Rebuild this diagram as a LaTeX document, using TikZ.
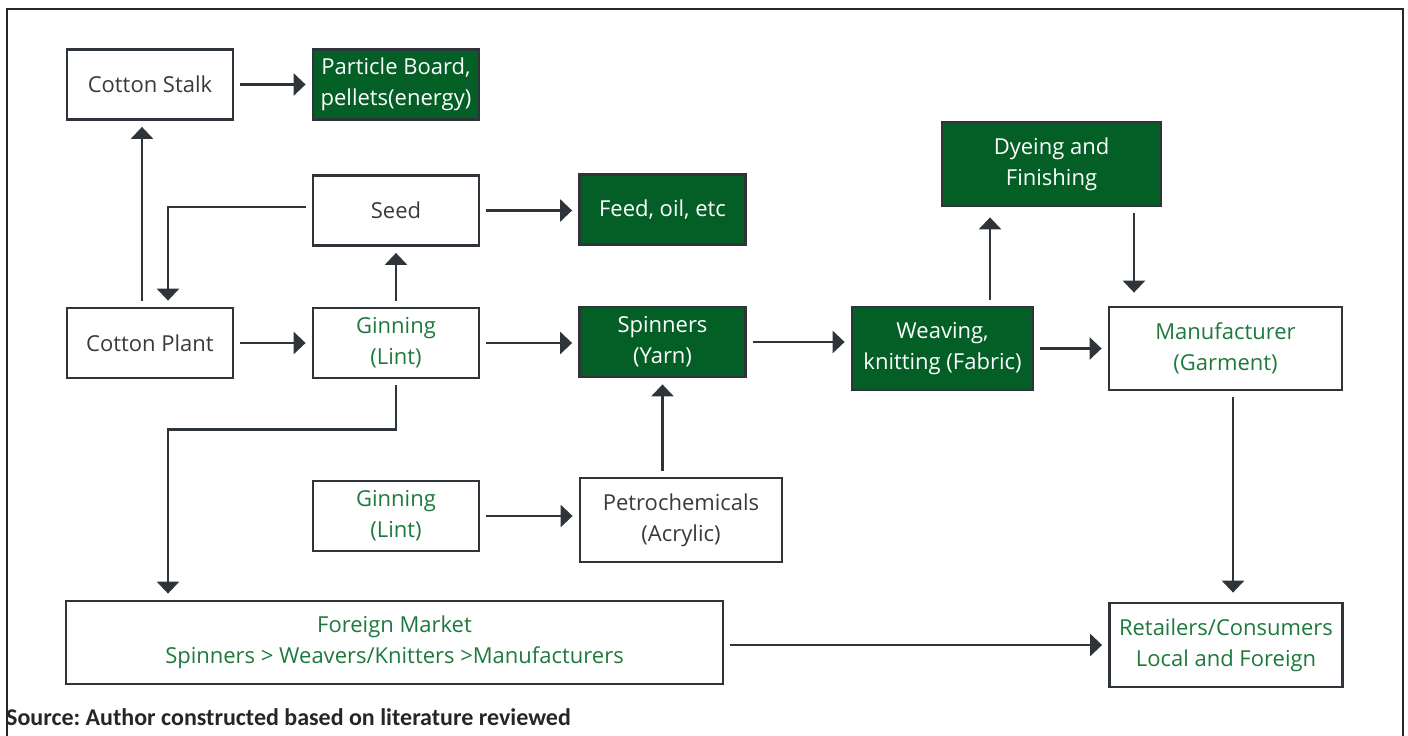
\documentclass[tikz,border=0pt]{standalone}
\usepackage{fontspec}
\setmainfont{Open Sans}
\newfontfamily\srcfont{Carlito}
\usetikzlibrary{arrows.meta}
\definecolor{leafgreen}{RGB}{4,95,39}
\definecolor{inkgreen}{RGB}{30,122,60}
\definecolor{slate}{RGB}{46,52,57}
\definecolor{darktext}{RGB}{58,58,58}
\begin{document}
\begin{tikzpicture}[x=1pt,y=-1pt,
    box/.style={draw=slate,line width=2.8pt,inner sep=0pt,align=center,
        minimum width=166pt,minimum height=70pt,font=\fontsize{22}{31}\selectfont},
    wbox/.style={box,fill=white,text=darktext},
    gwbox/.style={box,fill=white,text=inkgreen},
    gbox/.style={box,fill=leafgreen,text=white},
    myarrow/.style={-{Triangle[length=12pt,width=22pt]},draw=slate,line width=2.8pt,
        shorten >=6pt,shorten <=6pt}]
\useasboundingbox (0,0) rectangle (1408,736);
\draw[line width=2.8pt,color=black!85] (7,745) -- (7,9) -- (1403,9) -- (1403,745);
% boxes
\node[wbox] (stalk) at (150,84.5) {Cotton Stalk};
\node[gbox] (board) at (396,84.5) {Particle Board,\\pellets(energy)};
\node[wbox] (seed) at (396,210.5) {Seed};
\node[gbox] (feed) at (662.5,209.5) {Feed, oil, etc};
\node[wbox] (plant) at (150,343) {Cotton Plant};
\node[gwbox] (gin) at (396,343) {Ginning\\(Lint)};
\node[gbox] (spin) at (662.5,342) {Spinners\\(Yarn)};
\node[gbox,minimum width=181pt,minimum height=83pt] (weave) at (942.5,348.5) {Weaving,\\knitting (Fabric)};
\node[gbox,minimum width=219pt,minimum height=84pt] (dye) at (1051.5,164) {Dyeing and\\Finishing};
\node[gwbox,minimum width=233pt,minimum height=83pt] (manuf) at (1225.5,348.5) {Manufacturer\\(Garment)};
\node[gwbox] (gin2) at (396,516) {Ginning\\(Lint)};
\node[wbox,minimum width=202pt,minimum height=84pt] (petro) at (681,520) {Petrochemicals\\(Acrylic)};
\node[gwbox,minimum width=657pt,minimum height=83pt] (market) at (394.5,642.5) {Foreign Market\\Spinners > Weavers/Knitters >Manufacturers};
\node[gwbox,minimum width=233pt,minimum height=84pt] (retail) at (1226,645) {Retailers/Consumers\\Local and Foreign};
\node[anchor=base west,inner sep=0pt,text=black!85,
    font=\srcfont\bfseries\fontsize{24}{28}\selectfont\frenchspacing] (src) at (6,725)
    {Source: Author constructed based on literature reviewed};
% connectors
\coordinate (up) at ([xshift=-8pt]plant.north);
\coordinate (down) at ([xshift=18pt]plant.north);
\coordinate (lift) at ([xshift=47.5pt]weave.north);
\coordinate (drop) at ([xshift=82.5pt]dye.south);
\coordinate (fall) at ([xshift=7.5pt]manuf.south);
\draw[myarrow] (stalk) -- (board);
\draw[myarrow] (up) -- (up |- stalk.south);
\draw[myarrow] ([yshift=3.5pt]seed.west) -| (down);
\draw[myarrow] (seed.east) -- (seed.east -| feed.west);
\draw[myarrow] (plant) -- (gin);
\draw[myarrow] (gin) -- (seed);
\draw[myarrow] (gin.south) -- ++(0,50) -| (down |- market.north);
\draw[myarrow] (gin.east) -- (gin.east -| spin.west);
\draw[myarrow] (spin.east) -- (spin.east -| weave.west);
\draw[myarrow] (weave) -- (manuf);
\draw[myarrow,shorten >=10pt] (lift) -- (lift |- dye.south);
\draw[myarrow,shorten >=13pt] (drop) -- (drop |- manuf.north);
\draw[myarrow,shorten >=9pt] (fall) -- (fall |- retail.north);
\draw[myarrow] (gin2.east) -- (gin2.east -| petro.west);
\draw[myarrow] (spin.south |- petro.north) -- (spin.south);
\draw[myarrow] (market.east |- retail.west) -- (retail.west);
\end{tikzpicture}
\end{document}
